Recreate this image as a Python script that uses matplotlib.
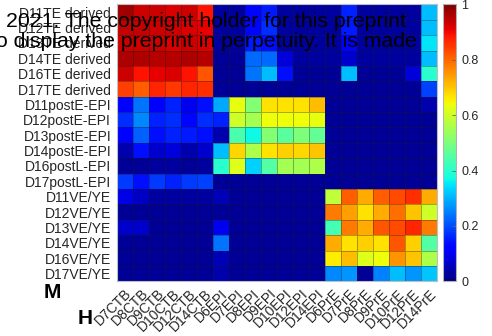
import numpy as np
import matplotlib.pyplot as plt
import matplotlib.transforms as mtransforms

plt.rcParams['font.family'] = ['Liberation Sans', 'DejaVu Sans']

row_labels = [
    "D11TE derived", "D12TE derived", "D13TE derived", "D14TE derived",
    "D16TE derived", "D17TE derived",
    "D11postE-EPI", "D12postE-EPI", "D13postE-EPI", "D14postE-EPI",
    "D16postL-EPI", "D17postL-EPI",
    "D11VE/YE", "D12VE/YE", "D13VE/YE", "D14VE/YE", "D16VE/YE", "D17VE/YE",
]
col_labels = [
    "D7CTB", "D8CTB", "D9CTB", "D10CTB", "D12CTB", "D14CTB",
    "D6EPI", "D7EPI", "D8EPI", "D9EPI", "D10EPI", "D12EPI", "D14EPI",
    "D6PrE", "D7PrE", "D8PrE", "D9PrE", "D10PrE", "D12PrE", "D14PrE",
]

# correlation of mouse lineages (rows) vs human lineages (columns)
te_rows = [
    [0.97, 0.93, 0.93, 0.92, 0.93, 0.89, 0.03, 0.03, 0.13, 0.15, 0.03, 0.03, 0.03, 0.03, 0.16, 0.03, 0.03, 0.03, 0.03, 0.31],
    [0.94, 0.94, 0.93, 0.93, 0.92, 0.91, 0.03, 0.03, 0.13, 0.17, 0.03, 0.03, 0.03, 0.03, 0.15, 0.03, 0.03, 0.03, 0.03, 0.31],
    [0.93, 0.93, 0.93, 0.92, 0.93, 0.92, 0.03, 0.03, 0.15, 0.14, 0.03, 0.03, 0.03, 0.03, 0.12, 0.03, 0.03, 0.03, 0.03, 0.35],
    [0.96, 0.96, 0.95, 0.95, 0.96, 0.95, 0.02, 0.02, 0.23, 0.23, 0.08, 0.03, 0.03, 0.03, 0.07, 0.03, 0.03, 0.03, 0.03, 0.31],
    [0.93, 0.89, 0.91, 0.92, 0.89, 0.82, 0.02, 0.02, 0.24, 0.31, 0.14, 0.02, 0.02, 0.02, 0.31, 0.02, 0.02, 0.02, 0.08, 0.40],
    [0.84, 0.81, 0.87, 0.85, 0.87, 0.86, 0.02, 0.02, 0.02, 0.02, 0.02, 0.02, 0.02, 0.02, 0.02, 0.02, 0.02, 0.02, 0.02, 0.19],
]
epi_rows = [
    [0.12, 0.24, 0.12, 0.16, 0.10, 0.14, 0.29, 0.63, 0.51, 0.67, 0.67, 0.67, 0.71, 0.02, 0.02, 0.02, 0.02, 0.02, 0.02, 0.04],
    [0.17, 0.26, 0.16, 0.17, 0.13, 0.17, 0.16, 0.60, 0.55, 0.64, 0.64, 0.64, 0.63, 0.02, 0.02, 0.02, 0.02, 0.02, 0.02, 0.02],
    [0.12, 0.22, 0.14, 0.16, 0.15, 0.14, 0.04, 0.44, 0.37, 0.51, 0.46, 0.50, 0.47, 0.02, 0.02, 0.02, 0.02, 0.02, 0.02, 0.02],
    [0.04, 0.14, 0.07, 0.08, 0.04, 0.07, 0.31, 0.68, 0.56, 0.67, 0.69, 0.68, 0.70, 0.02, 0.02, 0.02, 0.02, 0.02, 0.02, 0.02],
    [0.02, 0.02, 0.03, 0.03, 0.02, 0.03, 0.40, 0.62, 0.33, 0.45, 0.55, 0.55, 0.56, 0.02, 0.02, 0.02, 0.02, 0.02, 0.02, 0.02],
    [0.18, 0.14, 0.18, 0.16, 0.18, 0.19, 0.02, 0.02, 0.02, 0.02, 0.02, 0.02, 0.02, 0.02, 0.02, 0.02, 0.02, 0.02, 0.02, 0.02],
]
ve_rows = [
    [0.09, 0.06, 0.03, 0.03, 0.03, 0.03, 0.05, 0.02, 0.02, 0.02, 0.02, 0.02, 0.02, 0.58, 0.81, 0.73, 0.81, 0.83, 0.86, 0.73],
    [0.02, 0.02, 0.02, 0.02, 0.02, 0.02, 0.02, 0.02, 0.02, 0.02, 0.02, 0.02, 0.02, 0.78, 0.74, 0.67, 0.73, 0.79, 0.70, 0.60],
    [0.07, 0.07, 0.02, 0.02, 0.02, 0.02, 0.10, 0.02, 0.02, 0.02, 0.02, 0.02, 0.02, 0.43, 0.78, 0.73, 0.82, 0.83, 0.87, 0.78],
    [0.02, 0.02, 0.02, 0.02, 0.02, 0.02, 0.24, 0.02, 0.02, 0.02, 0.02, 0.02, 0.02, 0.73, 0.67, 0.69, 0.67, 0.82, 0.69, 0.45],
    [0.02, 0.02, 0.02, 0.02, 0.02, 0.02, 0.05, 0.02, 0.02, 0.02, 0.02, 0.02, 0.02, 0.66, 0.71, 0.62, 0.64, 0.75, 0.70, 0.56],
    [0.02, 0.02, 0.02, 0.02, 0.02, 0.02, 0.04, 0.02, 0.02, 0.02, 0.02, 0.02, 0.02, 0.26, 0.27, 0.02, 0.25, 0.31, 0.27, 0.32],
]
corr = np.array(te_rows + epi_rows + ve_rows)

W, H = 492, 336
fig = plt.figure(figsize=(W / 100, H / 100), dpi=100)
ax = fig.add_axes([116.7 / W, (H - 281.3) / H, 320.3 / W, 276.9 / H])
cax = fig.add_axes([443.3 / W, (H - 281.3) / H, 12.7 / W, 276.9 / H])

mesh = ax.pcolormesh(corr, cmap='jet', vmin=0, vmax=1,
                     edgecolors=(0.1, 0.1, 0.1, 0.35), linewidth=0.6)
ax.set_xlim(0, corr.shape[1])
ax.set_ylim(corr.shape[0], 0)

tick_color = (0.15, 0.15, 0.15)
ax.set_yticks(np.arange(len(row_labels)) + 0.5)
ax.set_yticklabels(row_labels, fontsize=10, color=tick_color)
ax.set_xticks(np.arange(len(col_labels)) + 0.5)
ax.set_xticklabels([])
ax.tick_params(length=0, pad=4)

# slanted column names, ending just right of and below each column centre
lab_trans = (mtransforms.blended_transform_factory(ax.transData, ax.transAxes)
             + mtransforms.ScaledTranslation(0.05, -0.10, fig.dpi_scale_trans))
for i, name in enumerate(col_labels):
    ax.text(i + 0.5, 0, name, transform=lab_trans, fontsize=10,
            color=tick_color, rotation=45, ha='right', va='center',
            rotation_mode='anchor', clip_on=False)

for sp in ax.spines.values():
    sp.set_color((0.75, 0.75, 0.75))
    sp.set_linewidth(0.8)

cb = fig.colorbar(mesh, cax=cax, ticks=[0, 0.2, 0.4, 0.6, 0.8, 1])
cb.ax.set_yticklabels(['0', '0.2', '0.4', '0.6', '0.8', '1'])
cb.ax.tick_params(labelsize=9, labelcolor=tick_color, direction='in',
                  length=3, width=0.6, color=(0.4, 0.4, 0.4), pad=4)
cb.outline.set_edgecolor((0.7, 0.7, 0.7))
cb.outline.set_linewidth(0.8)

# preprint notice laid over the top of the panel
fig.text(5.7 / W, (H - 27) / H, "2021. The copyright holder for this preprint",
         fontsize=15.3, color='black', va='baseline', ha='left')
fig.text(-4 / W, (H - 47) / H, "o display the preprint in perpetuity. It is made",
         fontsize=15.3, color='black', va='baseline', ha='left')

# panel letters
fig.text(44 / W, (H - 298) / H, "M", fontsize=15, fontweight='bold',
         va='baseline', ha='left')
fig.text(78 / W, (H - 324) / H, "H", fontsize=15, fontweight='bold',
         va='baseline', ha='left')

fig.savefig("out.png", dpi=100)
